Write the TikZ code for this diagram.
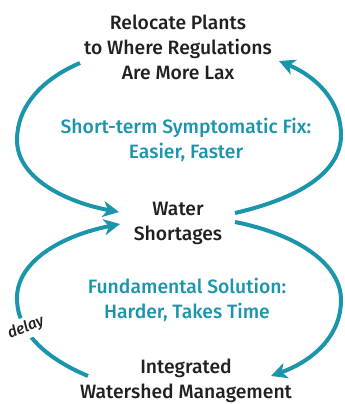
\documentclass[tikz,border=0pt]{standalone}
\usepackage{fontspec}
\setmainfont{Fira Sans}[UprightFont={* Medium}, ItalicFont={* Medium Italic}]
\usetikzlibrary{arrows.meta}
\definecolor{loopteal}{HTML}{1A95AC}
\definecolor{ink}{HTML}{231F20}
\tikzset{
  label/.style={align=center, text=ink, font=\fontsize{14.5}{18.75}\selectfont, inner sep=1pt},
  looptext/.style={align=center, text=loopteal, font=\fontsize{14.5}{18.75}\selectfont, inner sep=1pt},
  flow/.style={draw=loopteal, line width=3pt, -{Stealth[length=12pt, width=12pt, inset=3.5pt]}},
}
\begin{document}
\begin{tikzpicture}[x=0.75pt, y=-0.75pt]
\useasboundingbox (0,0) rectangle (345,404);

% causes and effects
\node[label] (relocate) at (178,47) {Relocate Plants\\to Where Regulations\\Are More Lax};
\node[label] (water) at (178,223) {Water\\Shortages};
\node[label] (iwm) at (186,381) {Integrated\\Watershed Management};

% loop descriptions
\node[looptext] (fix) at (186,140) {Short-term Symptomatic Fix:\\Easier, Faster};
\node[looptext] (fund) at (187,300) {Fundamental Solution:\\Harder, Takes Time};

% anchor points of the loops
\coordinate (a1) at (80,63);
\coordinate (a2) at (119,212);
\coordinate (b1) at (235,213);
\coordinate (b2) at (279,61);
\coordinate (c1) at (235,222);
\coordinate (c2) at (271,376);
\coordinate (d1) at (88,376);
\coordinate (d2) at (120,224);

% upper loop: symptomatic fix
\draw[flow] (a1) .. controls (40,80) and (17,108) .. (17,140)
  .. controls (17,180) and (70,203) .. (a2);
\draw[flow] (b1) .. controls (300,198) and (341,172) .. (341,135)
  .. controls (341,100) and (315,76) .. (b2);

% lower loop: fundamental solution
\draw[flow] (c1) .. controls (300,235) and (341,265) .. (341,300)
  .. controls (341,338) and (310,362) .. (c2);
\draw[flow] (d1) .. controls (50,360) and (17,335) .. (17,298)
  .. controls (17,262) and (60,236) .. (d2);

% delay marker on the fundamental loop
\node[fill=white, text=ink, font=\itshape\fontsize{11.5}{13}\selectfont, rotate=22, inner sep=2.5pt] (delay) at (26,328) {delay};
\end{tikzpicture}
\end{document}
